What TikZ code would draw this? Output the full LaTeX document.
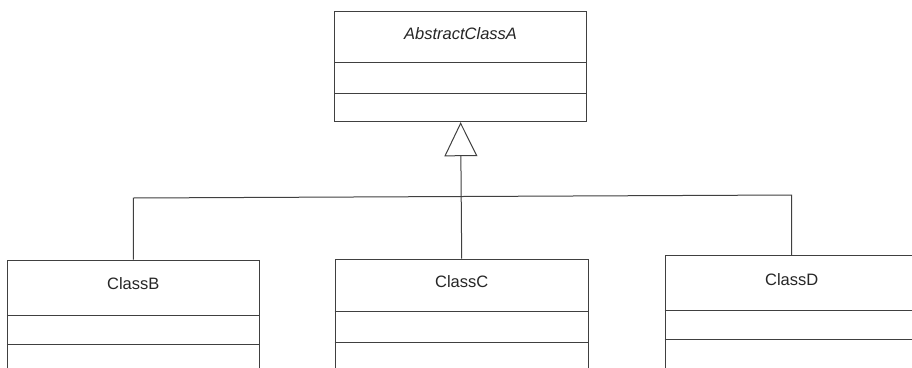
\documentclass[tikz,border=0pt]{standalone}
\usepackage{fontspec}
\setmainfont{Liberation Sans}
\usetikzlibrary{arrows.meta}
\begin{document}
\begin{tikzpicture}[x=1pt,y=-1pt,
  ln/.style={draw=black!75,line width=1pt},
  classbox/.style={ln,rectangle,inner sep=0pt,minimum width=252pt,minimum height=115pt},
  title/.style={font=\fontsize{16.5}{19}\selectfont,text=black!85,inner sep=0pt}]
\fill[white] (0,0) rectangle (912,367);
\clip (0,0) rectangle (912,367);
% AbstractClassA
\node[classbox,minimum height=110.7pt] (A) at (460.6,66.35) {};
\node[title,font=\fontsize{16.5}{19}\selectfont\itshape] (At) at (460.6,33.3) {AbstractClassA};
\draw[ln] (A.west |- 0,62.3) -- (A.east |- 0,62.3);
\draw[ln] (A.west |- 0,93.3) -- (A.east |- 0,93.3);
% ClassB
\node[classbox] (B) at (133.3,317.5) {};
\node[title] (Bt) at (133.3,283.3) {ClassB};
\draw[ln] (B.west |- 0,315) -- (B.east |- 0,315);
\draw[ln] (B.west |- 0,344.3) -- (B.east |- 0,344.3);
% ClassC
\node[classbox,minimum width=253.3pt] (C) at (461.7,316.5) {};
\node[title] (Ct) at (461.7,281.7) {ClassC};
\draw[ln] (C.west |- 0,311) -- (C.east |- 0,311);
\draw[ln] (C.west |- 0,342.3) -- (C.east |- 0,342.3);
% ClassD
\node[classbox,minimum width=253pt] (D) at (791.5,313.2) {};
\node[title] (Dt) at (791.7,280) {ClassD};
\draw[ln] (D.west |- 0,310) -- (D.east |- 0,310);
\draw[ln] (D.west |- 0,339.3) -- (D.east |- 0,339.3);
% connectors
\coordinate (jB) at (133.3,198);
\coordinate (jD) at (791.5,195);
\draw[ln] (B.north) -- (jB) -- (jD) -- (D.north);
\draw[ln,-{Triangle[open,length=34pt,width=33pt]}] (C.north) -- (A.south);
\end{tikzpicture}
\end{document}
